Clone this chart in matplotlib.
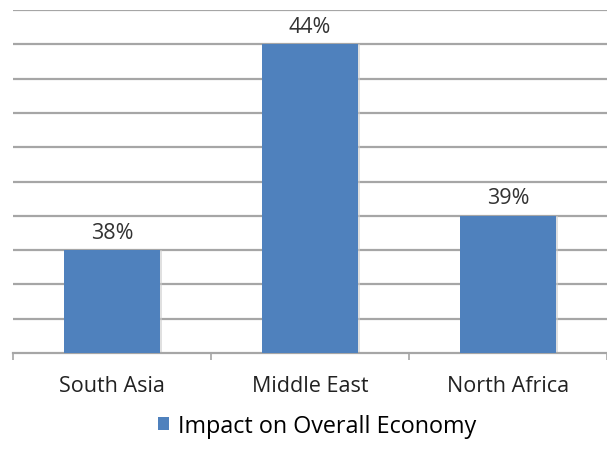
import matplotlib.pyplot as plt
import numpy as np

regions = ['South Asia', 'Middle East', 'North Africa']
impact = [38, 44, 39]
labels = ['38%', '44%', '39%']
series_name = 'Impact on Overall Economy'

bar_color = '#4F81BD'
grid_color = '#A6A6A6'

plt.rcParams['font.family'] = ['Open Sans', 'DejaVu Sans']

fig = plt.figure(figsize=(6.07, 4.64), dpi=100)
ax = fig.add_axes([0.0214, 0.237, 0.9786, 0.739])

x = np.arange(len(regions))
# soft shadow behind each bar
ax.bar(x + 0.012, [v - 35 for v in impact], width=0.485, bottom=35,
       color='#cccccc', alpha=0.6, zorder=2)
bars = ax.bar(x, [v - 35 for v in impact], width=0.485, bottom=35,
              color=bar_color, zorder=3, label=series_name)

for xi, v, lab in zip(x, impact, labels):
    ax.text(xi, v + 0.22, lab, ha='center', va='bottom', fontsize=15.5,
            color='#333333')

ax.set_xlim(-0.5, len(regions) - 0.5)
ax.set_ylim(35, 45)
ax.set_yticks(np.arange(36, 46, 1))
ax.yaxis.grid(True, color=grid_color, linewidth=1.6)
ax.set_axisbelow(True)
ax.tick_params(axis='y', left=False, labelleft=False)

# category boundary ticks along the base line
ax.set_xticks(np.arange(-0.5, len(regions), 1.0))
ax.set_xticklabels([])
ax.set_xticks(x, minor=True)
ax.set_xticklabels(regions, minor=True, fontsize=15.5, color='#222222')
ax.tick_params(axis='x', which='minor', length=0, pad=16)
ax.tick_params(axis='x', which='major', length=5, color=grid_color, width=1.2)

for side in ['left', 'right', 'top']:
    ax.spines[side].set_visible(False)
ax.spines['bottom'].set_color(grid_color)
ax.spines['bottom'].set_linewidth(1.6)

fig.legend(handles=[bars], labels=[series_name], loc='center',
           bbox_to_anchor=(0.522, 0.08), frameon=False, fontsize=16.8,
           handlelength=0.5, handleheight=0.5, handletextpad=0.35)

plt.savefig('out.png', dpi=100)
